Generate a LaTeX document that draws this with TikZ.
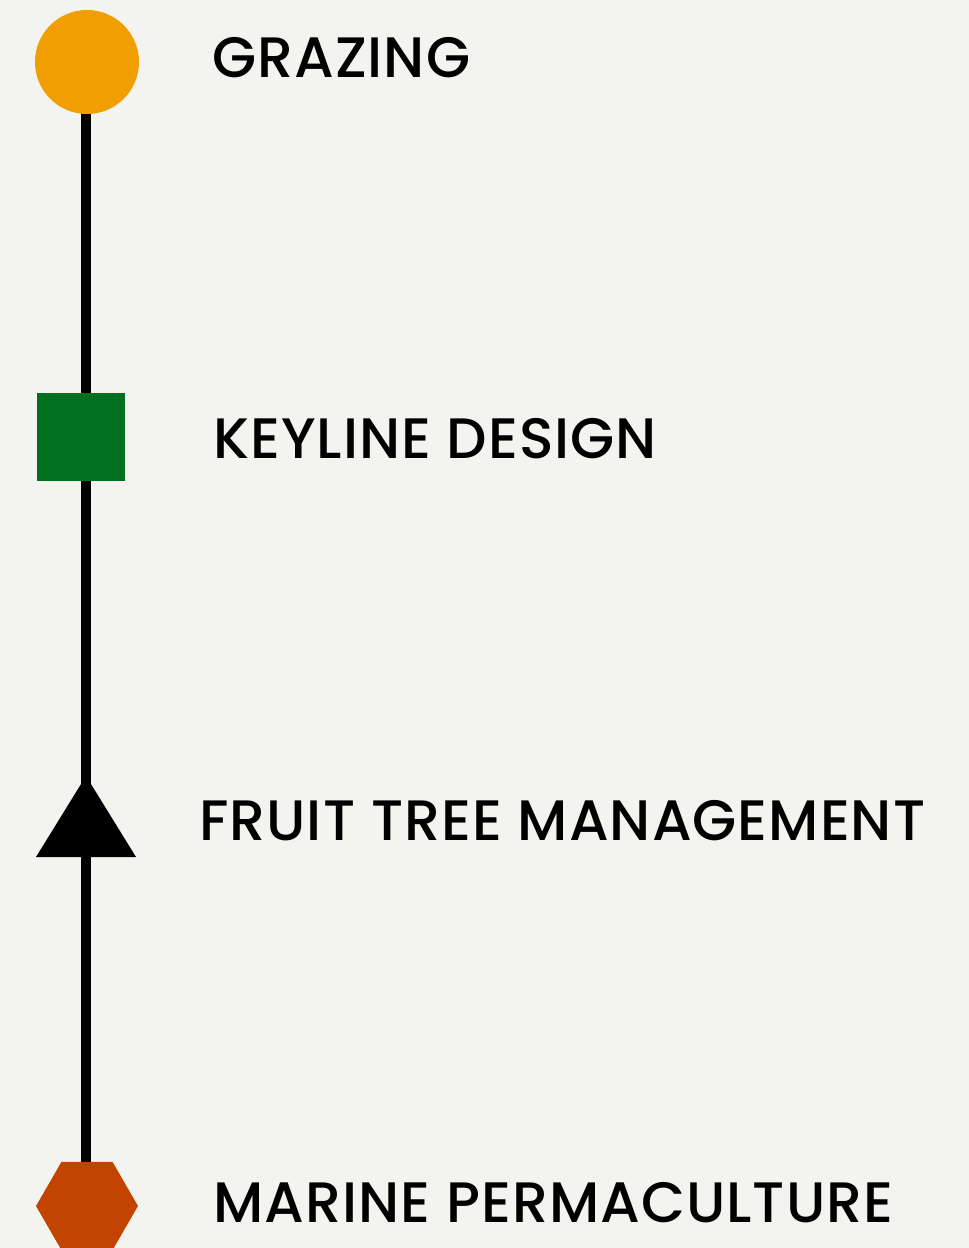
\documentclass[tikz,border=0pt]{standalone}
\usepackage{fontspec}
\setmainfont{Poppins Medium}[LetterSpace=1.8]
\usetikzlibrary{shapes.geometric}
\definecolor{paper}{HTML}{F3F4EF}
\definecolor{amber}{HTML}{F09E00}
\definecolor{leaf}{HTML}{007020}
\definecolor{rust}{HTML}{C24400}
\begin{document}
\begin{tikzpicture}[x=1pt,y=-1pt,
  label text/.style={anchor=base west,inner sep=0pt,font=\fontsize{57}{60}\selectfont,text=black},
  marker/.style={draw=none,inner sep=0pt,outer sep=0pt}]
  \fill[paper] (0,0) rectangle (969,1248);
  \useasboundingbox (0,0) rectangle (969,1248);
  % anchor points of the markers on the spine
  \coordinate (m1) at (86,62);
  \coordinate (m4) at (86,1206);
  % spine, drawn first so the markers cover it
  \draw[line width=10pt] (m1) -- (m4);
  % markers
  \node[marker,circle,fill=amber,minimum size=104pt] (c1) at (87,62) {};
  \node[marker,rectangle,fill=leaf,minimum width=88pt,minimum height=88pt] (c2) at (81,437) {};
  \fill[black] (86,776) -- (136,857) -- (36,857) -- cycle;
  \node[marker,regular polygon,regular polygon sides=6,fill=rust,minimum size=102pt] (c4) at (87,1206) {};
  % labels
  \node[label text] (t1) at (212,77) {GRAZING};
  \node[label text] (t2) at (213,458) {KEYLINE DESIGN};
  \node[label text] (t3) at (199,840) {FRUIT TREE MANAGEMENT};
  \node[label text] (t4) at (213,1222) {MARINE PERMACULTURE};
\end{tikzpicture}
\end{document}
